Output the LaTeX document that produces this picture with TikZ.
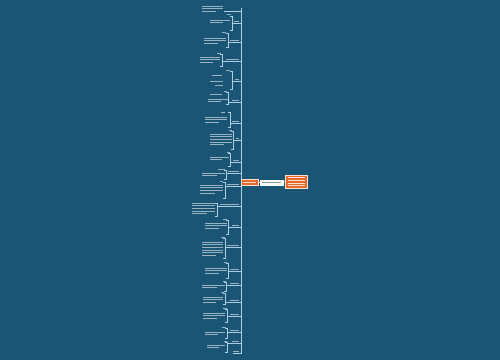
\documentclass[tikz,border=0pt]{standalone}
\definecolor{bg}{RGB}{27,85,118}
\definecolor{org}{RGB}{232,105,40}
\definecolor{ln}{RGB}{175,205,225}
\tikzset{x=1pt,y=-1pt,
  txt/.style={line width=0.6pt, draw=white, opacity=0.55},
  conn/.style={draw=ln, line width=0.5pt},
  orgbox/.style={fill=org, draw=white!80!org, line width=0.3pt, inner sep=0pt},
  whitebox/.style={fill=white, draw=white, inner sep=0pt}}
\newcommand\leafbars[4]{%
  \foreach \i in {1,...,#4}{%
    \pgfmathsetmacro\yy{#3+(\i-1)*2.6}%
    \ifnum\i=#4\relax
      \draw[txt] (#1,\yy) -- ({#1+0.65*(#2-#1)},\yy);
    \else
      \draw[txt] (#1,\yy) -- (#2,\yy);
    \fi}}
\newcommand\brk[3]{\draw[conn] (#1-2,#2) -- (#1,#2) -- (#1,#3) -- (#1-2,#3);}
\newcommand\lab[3]{\draw[txt] (#1,#2-1.3) -- (239,#2-1.3); \draw[conn] (#3,#2) -- (241,#2);}
\newcommand\tagbar[3]{\draw[txt] (#1,#3) -- (#2,#3);}
\begin{document}
\begin{tikzpicture}
\fill[bg] (0,0) rectangle (500,360);
\useasboundingbox (0,0) rectangle (500,360);
% main bracket
\draw[conn] (241,8) -- (241,354);
% top leaf
\leafbars{202}{223}{6}{3}
\draw[conn] (224,11) -- (241,11);
% groups
\brk{232}{16}{30}\lab{234}{23}{232}\leafbars{210}{230}{20}{2}\tagbar{227}{231}{14.5}
\brk{228}{33}{47}\lab{230}{42}{228}\leafbars{204}{226}{38}{3}\tagbar{222}{226}{32}
\brk{222}{54}{66}\lab{226}{61}{222}\leafbars{200}{220}{57}{3}\tagbar{217}{221}{53}
\brk{232}{71}{89}\lab{235}{81}{232}\leafbars{212}{228}{75}{1}\leafbars{210}{230}{81}{1}\leafbars{215}{228}{85}{1}\tagbar{226}{230}{70}
\brk{228}{92}{104}\lab{232}{102}{228}\leafbars{210}{228}{94}{1}\leafbars{208}{228}{99}{2}\tagbar{224}{227}{91.5}
\brk{230}{112}{127}\lab{232}{123}{230}\leafbars{205}{227}{117}{3}\tagbar{221}{225}{112}
\brk{233}{131}{149}\lab{236}{140}{233}\leafbars{210}{232}{134}{5}\tagbar{229}{232}{130}
\brk{230}{153}{166}\lab{233}{162}{230}\leafbars{210}{229}{157}{2}\tagbar{227}{230}{152}
\brk{226}{170}{179}\lab{228}{173}{226}\leafbars{202}{225}{173}{2}\tagbar{218}{225}{169}
\brk{225}{182}{198}\lab{227}{186}{225}\leafbars{200}{223}{185}{4}\tagbar{220}{223}{181}
\brk{217}{203}{216}\lab{220}{206}{217}\leafbars{192}{215}{203}{5}
\brk{228}{220}{234}\lab{232}{227}{228}\leafbars{205}{227}{223}{3}\tagbar{223}{227}{219}
\brk{225}{238}{258}\lab{227}{247}{225}\leafbars{202}{223}{242}{6}\tagbar{221}{225}{237}
\brk{228}{263}{278}\lab{230}{271}{228}\leafbars{205}{227}{268}{3}\tagbar{224}{227}{262}
\brk{226}{282}{291}\lab{230}{285}{226}\leafbars{202}{225}{285}{2}\tagbar{223}{226}{281}
\brk{225}{293}{304}\lab{230}{302}{225}\leafbars{203}{223}{297}{3}\tagbar{221}{224}{292}
\brk{227}{309}{322}\lab{230}{316}{227}\leafbars{203}{225}{313}{3}\tagbar{223}{227}{308}
\brk{227}{328}{338}\lab{230}{332}{227}\leafbars{205}{225}{332}{2}\tagbar{222}{226}{327}
\brk{227}{342}{352}\lab{232}{343}{227}\leafbars{207}{225}{345}{2}\tagbar{224}{227}{341}
\lab{233}{353}{233}
% central nodes
\node[orgbox, minimum width=17pt, minimum height=5.5pt, anchor=west] (left) at (241,182.2) {};
\node[whitebox, minimum width=23pt, minimum height=5pt, anchor=west] (mid) at (260,182.5) {};
\node[orgbox, minimum width=22pt, minimum height=13pt, anchor=west] (root) at (285,181.5) {};
\draw[conn, draw=white] (left.east) -- (mid.west);
\draw[conn, draw=white] (mid.east) -- (root.west);
\draw[txt, opacity=0.8] (243,182.2) -- (256,182.2);
\draw[line width=0.6pt, draw=bg!60!white] (262,182.5) -- (281,182.5);
\foreach \yy in {177.5,180.2,182.9,185.6}{\draw[txt, opacity=0.8] (287.5,\yy) -- (304.5,\yy);}
\end{tikzpicture}
\end{document}
